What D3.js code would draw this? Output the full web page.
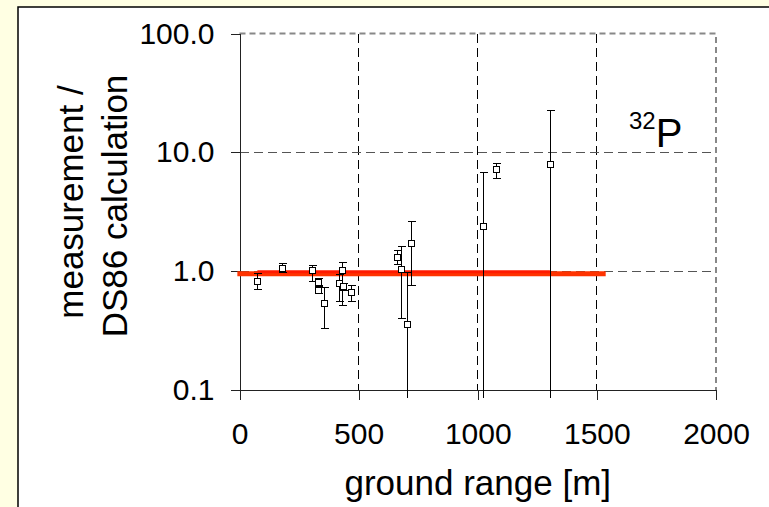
<html>
<head>
    <title>32P measurement / DS86 calculation</title>
    <meta charset="utf-8" />
    <style>
      body {
    margin: 0;
    padding: 0;
    background: #ffffe3;
}

svg text {
    font-family: 'Liberation Sans', Arial, sans-serif;
    fill: #000;
}

.axis path, .axis line {
    fill: none;
    stroke: #222;
    stroke-width: 1;
    shape-rendering: crispEdges;
}

.axis text {
    font-size: 30px;
}

.err {
    stroke: #000;
    stroke-width: 1;
    shape-rendering: crispEdges;
}
    </style>
    <script src="https://d3js.org/d3.v7.min.js"></script>
</head>
<body>
    <script>
// ground range [m] of each sample
var groundRange = [75, 177, 303, 331, 331, 356, 417, 431, 433, 467, 660, 678, 702, 720, 1021, 1078, 1303];
// measurement / DS86 calculation
var ratio = [0.83, 1.07, 1.02, 0.81, 0.70, 0.54, 0.79, 1.02, 0.75, 0.67, 1.31, 1.04, 0.36, 1.73, 2.39, 7.2, 7.9];
// error bar ends (lower values below 0.1 run off the axis)
var errLow = [0.71, 0.98, 0.83, 0.76, 0.66, 0.33, 0.56, 0.52, 0.70, 0.56, 1.16, 0.40, 0.05, 0.77, 0.05, 6.1, 0.05];
var errHigh = [0.96, 1.18, 1.13, 0.87, 0.75, 0.73, 0.95, 1.20, 0.80, 0.77, 1.50, 1.64, 0.98, 2.66, 6.8, 8.2, 22.7];

// red reference lines
var refLineX = [-9, 1537];
var refLineY = [0.95, 0.95];
var refLine2X = [75, 1303];
var refLine2Y = [0.99, 0.99];

var xTicks = [0, 500, 1000, 1500, 2000];
var yTicks = [0.1, 1, 10, 100];

var width = 769, height = 507;

var svg = d3.select("body").append("svg")
    .attr("width", width)
    .attr("height", height);

svg.append("rect")
    .attr("width", width).attr("height", height)
    .attr("fill", "#ffffe3");

// white panel
svg.append("rect")
    .attr("x", 18).attr("y", 7)
    .attr("width", 800).attr("height", 600)
    .attr("fill", "#fff")
    .attr("stroke", "#000")
    .attr("stroke-width", 1.5);

var x = d3.scaleLinear().domain([0, 2000]).range([239.5, 716]);
var y = d3.scaleLog().domain([0.1, 100]).range([390, 33.5]);

var plotLeft = x(0), plotRight = x(2000), plotTop = y(100), plotBottom = y(0.1);

// grid lines
var grid = svg.append("g");
grid.selectAll(".vgrid")
    .data(xTicks.filter(function (d) { return d > 0 && d < 2000; }))
    .enter().append("line")
    .attr("x1", function (d) { return x(d); })
    .attr("x2", function (d) { return x(d); })
    .attr("y1", plotTop).attr("y2", plotBottom)
    .attr("stroke", "#000")
    .attr("stroke-dasharray", "9,5")
    .attr("shape-rendering", "crispEdges");

grid.selectAll(".hgrid")
    .data(yTicks.filter(function (d) { return d > 0.1 && d < 100; }))
    .enter().append("line")
    .attr("x1", plotLeft).attr("x2", plotRight)
    .attr("y1", function (d) { return y(d); })
    .attr("y2", function (d) { return y(d); })
    .attr("stroke", "#555")
    .attr("stroke-dasharray", "9,5")
    .attr("shape-rendering", "crispEdges");

// gray dashed top and right border
grid.append("path")
    .attr("d", "M" + plotLeft + "," + plotTop + "H" + plotRight + "V" + plotBottom)
    .attr("fill", "none")
    .attr("stroke", "#888")
    .attr("stroke-width", 2)
    .attr("stroke-dasharray", "6,4");

// axes
var xAxis = d3.axisBottom(x)
    .tickValues(xTicks)
    .tickFormat(d3.format("d"))
    .tickSize(10)
    .tickSizeOuter(0)
    .tickPadding(23);

var yAxis = d3.axisLeft(y)
    .tickValues(yTicks)
    .tickFormat(d3.format(".1f"))
    .tickSize(9)
    .tickSizeOuter(0)
    .tickPadding(16);

svg.append("g").classed("x axis", true)
    .attr("transform", "translate(0," + plotBottom + ")")
    .call(xAxis);

svg.append("g").classed("y axis", true)
    .attr("transform", "translate(" + plotLeft + ",0)")
    .call(yAxis);

// red lines
var line = d3.line()
    .x(function (d) { return x(d[0]); })
    .y(function (d) { return y(d[1]); });

svg.append("path")
    .datum(d3.zip(refLineX, refLineY))
    .attr("d", line)
    .attr("fill", "none")
    .attr("stroke", "#ff3300")
    .attr("stroke-width", 5);

svg.append("path")
    .datum(d3.zip(refLine2X, refLine2Y))
    .attr("d", line)
    .attr("fill", "none")
    .attr("stroke", "#ff1a00")
    .attr("stroke-width", 3);

// data with error bars
var data = groundRange.map(function (g, i) {
    return { x: g, y: ratio[i], lo: errLow[i], hi: errHigh[i] };
});

function yClamp(v) {
    return v < 0.1 ? plotBottom + 8 : y(v);
}

var pts = svg.append("g").selectAll("g")
    .data(data)
    .enter().append("g")
    .attr("transform", function (d) { return "translate(" + Math.round(x(d.x)) + ",0)"; });

pts.append("line").classed("err", true)
    .attr("x1", 0.5).attr("x2", 0.5)
    .attr("y1", function (d) { return yClamp(d.lo); })
    .attr("y2", function (d) { return y(d.hi); });

pts.append("line").classed("err", true)
    .attr("x1", -3.5).attr("x2", 4.5)
    .attr("y1", function (d) { return Math.round(y(d.hi)) + 0.5; })
    .attr("y2", function (d) { return Math.round(y(d.hi)) + 0.5; });

pts.filter(function (d) { return d.lo >= 0.1; })
    .append("line").classed("err", true)
    .attr("x1", -3.5).attr("x2", 4.5)
    .attr("y1", function (d) { return Math.round(y(d.lo)) + 0.5; })
    .attr("y2", function (d) { return Math.round(y(d.lo)) + 0.5; });

pts.append("rect")
    .attr("x", -2.5)
    .attr("y", function (d) { return Math.round(y(d.y)) - 2.5; })
    .attr("width", 6).attr("height", 6)
    .attr("fill", "#fff")
    .attr("stroke", "#000")
    .attr("stroke-width", 1);

// axis titles
svg.append("text")
    .attr("x", (plotLeft + plotRight) / 2)
    .attr("y", 495)
    .attr("text-anchor", "middle")
    .style("font-size", "35px")
    .text("ground range [m]");

var yTitle = svg.append("text")
    .attr("transform", "rotate(-90)")
    .attr("text-anchor", "middle")
    .style("font-size", "35px");

yTitle.append("tspan")
    .attr("x", -202).attr("y", 83)
    .text("measurement /");

yTitle.append("tspan")
    .attr("x", -206).attr("y", 127)
    .text("DS86 calculation");

// isotope label
var iso = svg.append("text")
    .attr("x", 629).attr("y", 147);
iso.append("tspan")
    .attr("dy", -18)
    .style("font-size", "24px")
    .text("32");
iso.append("tspan")
    .attr("dy", 18)
    .style("font-size", "40px")
    .text("P");
    </script>
</body>
</html>
